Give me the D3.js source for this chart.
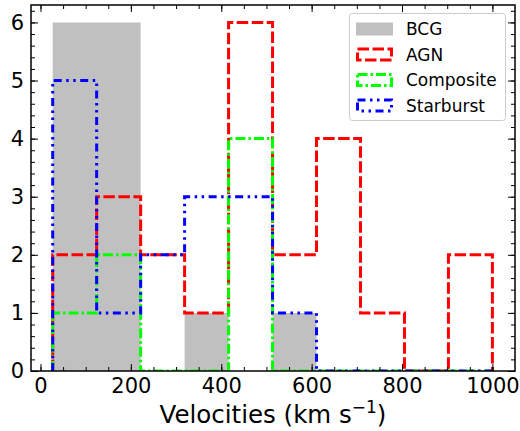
<!DOCTYPE html>
<html>
<head>
<meta charset="utf-8">
<script src="https://cdn.jsdelivr.net/npm/d3@7"></script>
<style>
  body { margin: 0; background: #fff; }
  svg { display: block; font-family: "DejaVu Sans", sans-serif; }
</style>
</head>
<body>
<div id="chart"></div>
<script>
// bin edges shared by all histograms (km/s)
const binEdges = [27, 124.3, 221.6, 318.9, 416.2, 513.5, 610.8, 708.1, 805.4, 902.7, 1000];

const bcgCounts = [6, 6, 0, 1, 0, 1, 0, 0, 0, 0];
const agnCounts = [2, 3, 2, 1, 6, 2, 4, 1, 0, 2];
const compositeCounts = [1, 2, 0, 0, 4, 0, 0, 0, 0, 0];
const starburstCounts = [5, 1, 2, 3, 3, 1, 0, 0, 0, 0];

const xTicks = [0, 200, 400, 600, 800, 1000];
const yTicks = [0, 1, 2, 3, 4, 5, 6];

const width = 520, height = 431;
const margin = {top: 5, right: 5, bottom: 60, left: 31};

const svg = d3.select("#chart").append("svg")
    .attr("width", width)
    .attr("height", height);

const x = d3.scaleLinear().domain([-21, 1050]).range([margin.left, width - margin.right]);
const y = d3.scaleLinear().domain([0, 6.3]).range([height - margin.bottom, margin.top]);

svg.append("clipPath").attr("id", "plot-clip")
    .append("rect")
    .attr("x", margin.left).attr("y", margin.top)
    .attr("width", width - margin.left - margin.right)
    .attr("height", height - margin.top - margin.bottom);

const plot = svg.append("g").attr("clip-path", "url(#plot-clip)");

function stepPoints(counts) {
    let pts = [[binEdges[0], 0]];
    counts.forEach((c, i) => {
        pts.push([binEdges[i], c]);
        pts.push([binEdges[i + 1], c]);
    });
    pts.push([binEdges[binEdges.length - 1], 0]);
    return pts;
}

const line = d3.line().x(d => x(d[0])).y(d => y(d[1]));

// filled BCG histogram
plot.append("path")
    .attr("d", line(stepPoints(bcgCounts)) + "Z")
    .attr("fill", "#c0c0c0")
    .attr("stroke", "none");

const series = [
    {name: "AGN", counts: agnCounts, color: "#ff0000", dash: "11.5,3.5"},
    {name: "Composite", counts: compositeCounts, color: "#00ff00", dash: "10,3,2.5,3"},
    {name: "Starburst", counts: starburstCounts, color: "#0000ff", dash: "8,4.5,2.5,4.5,2.5,4.5"},
];

series.forEach(s => {
    plot.append("path")
        .attr("d", line(stepPoints(s.counts)))
        .attr("fill", "none")
        .attr("stroke", s.color)
        .attr("stroke-width", 3)
        .attr("stroke-dasharray", s.dash);
});

// axes with inward ticks on all sides
function tickAxis(axisFn, scale, ticks, size, labels) {
    return axisFn(scale).tickValues(ticks).tickSizeInner(-size).tickSizeOuter(0)
        .tickFormat(labels ? d3.format("d") : "");
}

const xMinor = d3.range(0, 1050, 50);
const yMinor = d3.range(0, 6.3, 0.2);

const bottomY = height - margin.bottom;

function drawAxes(g, axis) {
    g.call(axis);
    g.select(".domain").remove();
    g.selectAll(".tick line").attr("stroke", "#000").attr("stroke-width", 1);
}

// bottom
drawAxes(svg.append("g").attr("transform", `translate(0,${bottomY})`),
    tickAxis(d3.axisBottom, x, xMinor, 4, false));
const xb = svg.append("g").attr("transform", `translate(0,${bottomY})`);
drawAxes(xb, tickAxis(d3.axisBottom, x, xTicks, 7, true).tickPadding(7));
xb.selectAll(".tick text").attr("font-size", 21).attr("fill", "#000")
    .attr("font-family", "DejaVu Sans");

// top
drawAxes(svg.append("g").attr("transform", `translate(0,${margin.top})`),
    tickAxis(d3.axisTop, x, xMinor, 4, false));
drawAxes(svg.append("g").attr("transform", `translate(0,${margin.top})`),
    tickAxis(d3.axisTop, x, xTicks, 7, false));

// left
drawAxes(svg.append("g").attr("transform", `translate(${margin.left},0)`),
    tickAxis(d3.axisLeft, y, yMinor, 4, false));
const yl = svg.append("g").attr("transform", `translate(${margin.left},0)`);
drawAxes(yl, tickAxis(d3.axisLeft, y, yTicks, 7, true).tickPadding(7));
yl.selectAll(".tick text").attr("font-size", 21).attr("fill", "#000")
    .attr("font-family", "DejaVu Sans");

// right
drawAxes(svg.append("g").attr("transform", `translate(${width - margin.right},0)`),
    tickAxis(d3.axisRight, y, yMinor, 4, false));
drawAxes(svg.append("g").attr("transform", `translate(${width - margin.right},0)`),
    tickAxis(d3.axisRight, y, yTicks, 7, false));

// frame
svg.append("rect")
    .attr("x", margin.left).attr("y", margin.top)
    .attr("width", width - margin.left - margin.right)
    .attr("height", height - margin.top - margin.bottom)
    .attr("fill", "none").attr("stroke", "#000").attr("stroke-width", 1.5);

// x label
const xl = svg.append("text")
    .attr("x", (margin.left + width - margin.right) / 2)
    .attr("y", 423)
    .attr("text-anchor", "middle")
    .attr("font-size", 24.5)
    .attr("fill", "#000");
xl.append("tspan").text("Velocities (km s");
xl.append("tspan").attr("dy", -10).attr("font-size", 17).text("\u22121");
xl.append("tspan").attr("dy", 10).text(")");

// legend
const legend = svg.append("g");
legend.append("rect")
    .attr("x", 349.5).attr("y", 13.5)
    .attr("width", 156).attr("height", 107)
    .attr("rx", 3)
    .attr("fill", "#fff").attr("fill-opacity", 0.8)
    .attr("stroke", "#cccccc");

const legendRows = [
    {name: "BCG", fill: "#c0c0c0"},
    ...series
];
legendRows.forEach((r, i) => {
    const cy = 29 + i * 25.5;
    const g = legend.append("g");
    if (r.fill) {
        g.append("rect").attr("x", 356).attr("y", cy - 6.5)
            .attr("width", 37).attr("height", 13).attr("fill", r.fill);
    } else {
        g.append("rect").attr("x", 357.5).attr("y", cy - 5.5)
            .attr("width", 34).attr("height", 11)
            .attr("fill", "none").attr("stroke", r.color)
            .attr("stroke-width", 3).attr("stroke-dasharray", r.dash);
    }
    g.append("text").attr("x", 406).attr("y", cy + 6)
        .attr("font-size", 17).attr("fill", "#000").text(r.name);
});
</script>
</body>
</html>
